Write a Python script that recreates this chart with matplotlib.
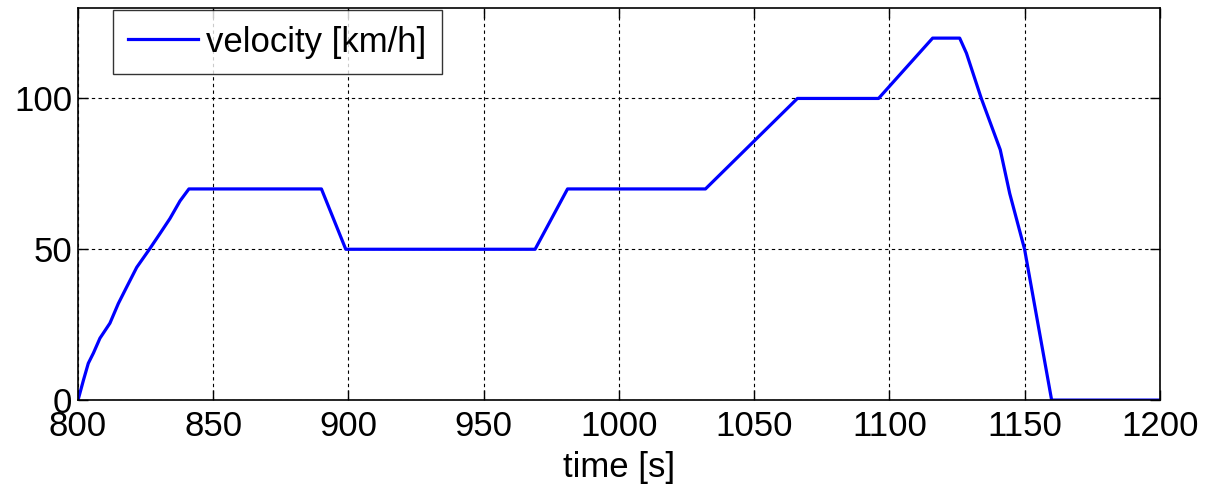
import matplotlib.pyplot as plt

plt.rcParams['font.family'] = ['Liberation Sans', 'DejaVu Sans']

time = [800, 802, 803.8, 805.7, 808.1, 811.8, 814.9, 818, 821.7, 826.4, 830.3,
        834, 837.7, 841, 890, 899, 969, 981, 1032,
        1066, 1096, 1116, 1126, 1128.5, 1134, 1141, 1144.5, 1150, 1160, 1200]
velocity = [0, 6.6, 12.2, 15.6, 20.5, 25.5, 32, 37.5, 44, 50, 55.2,
            60.2, 66, 70, 70, 50, 50, 70, 70,
            100, 100, 120, 120, 115, 100, 83, 68.5, 50, 0, 0]

xticks = [800, 850, 900, 950, 1000, 1050, 1100, 1150, 1200]
yticks = [0, 50, 100]

fig = plt.figure(figsize=(12.06, 4.97), dpi=100)
ax = fig.add_axes([0.0647, 0.195, 0.897, 0.789])

ax.plot(time, velocity, color='#0000ff', lw=2.3, label='velocity [km/h]')

ax.set_xlim(800, 1200)
ax.set_ylim(0, 130)
ax.set_xticks(xticks)
ax.set_yticks(yticks)
ax.tick_params(direction='in', length=7, width=1, labelsize=25, top=True, right=True)
ax.tick_params(axis='x', pad=7)
ax.tick_params(axis='y', pad=4)
ax.grid(True, color='black', linestyle=(0, (3, 3)), linewidth=0.8)
for s in ax.spines.values():
    s.set_linewidth(1.2)

ax.set_xlabel('time [s]', fontsize=25, labelpad=6)

leg = ax.legend(loc='upper left', bbox_to_anchor=(0.032, 0.995), fontsize=25,
                frameon=True, fancybox=False, edgecolor='black',
                handlelength=2.0, borderpad=0.45, handletextpad=0.25,
                borderaxespad=0.0)
leg.get_frame().set_linewidth(1.0)

fig.savefig('out.png', dpi=100)
